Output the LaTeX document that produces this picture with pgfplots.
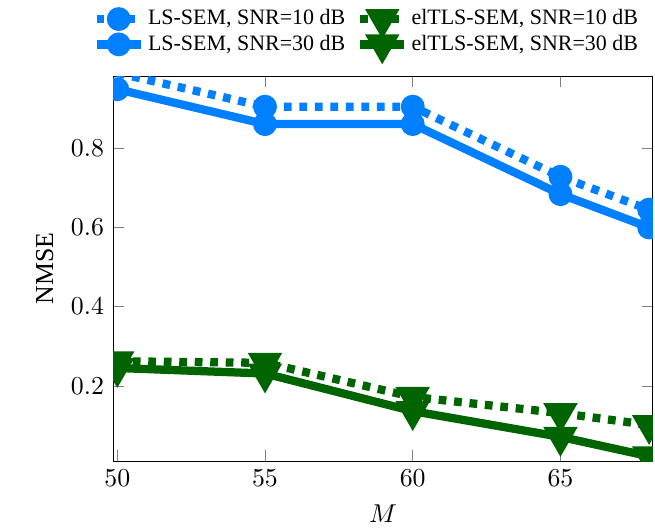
\documentclass[border=0pt]{standalone}
\usepackage{fontspec}
\setmainfont{Liberation Serif}
\usepackage{pgfplots}
\pgfplotsset{compat=1.18}
\definecolor{lsblue}{RGB}{0,128,255}
\definecolor{elgreen}{RGB}{0,100,0}
\begin{document}
\begin{tikzpicture}
\begin{axis}[
  scale only axis,
  width=209pt, height=149pt,
  xmin=49.86, xmax=68.13,
  ymin=0.01, ymax=0.982,
  xtick={50,55,60,65},
  ytick={0.2,0.4,0.6,0.8},
  xlabel={$M$}, ylabel={NMSE},
  clip marker paths=true,
  legend columns=2,
  legend style={draw=none, fill=none, font=\fontsize{8.5}{10}\selectfont, at={(0.47,1.035)}, anchor=south,
    nodes={inner sep=1.2pt},
    /tikz/every even column/.append style={column sep=3pt}},
  legend cell align=left,
]
\addplot[color=lsblue, line width=3.2pt, dash pattern=on 3pt off 3pt, mark=*, mark size=3pt, mark options={solid, fill=lsblue}]
  coordinates {(50,0.99) (55,0.905) (60,0.905) (65,0.728) (68,0.645)};
\addlegendentry{LS-SEM, SNR=10 dB}
\addplot[color=elgreen, line width=3.2pt, dash pattern=on 3pt off 3pt, mark=triangle*, mark size=4.5pt, mark options={solid, rotate=180, fill=elgreen}]
  coordinates {(50,0.262) (55,0.258) (60,0.172) (65,0.131) (68,0.101)};
\addlegendentry{elTLS-SEM, SNR=10 dB}
\addplot[color=lsblue, line width=3.2pt, mark=*, mark size=3pt, mark options={solid, fill=lsblue}]
  coordinates {(50,0.949) (55,0.861) (60,0.861) (65,0.684) (68,0.6)};
\addlegendentry{LS-SEM, SNR=30 dB}
\addplot[color=elgreen, line width=3.2pt, mark=triangle*, mark size=4.5pt, mark options={solid, rotate=180, fill=elgreen}]
  coordinates {(50,0.245) (55,0.231) (60,0.136) (65,0.071) (68,0.022)};
\addlegendentry{elTLS-SEM, SNR=30 dB}
\end{axis}
\pgfresetboundingbox
\path ([xshift=-43.8pt,yshift=29.5pt]current axis.north west) rectangle ([xshift=0.8pt,yshift=-26.7pt]current axis.south east);
\end{tikzpicture}
\end{document}
